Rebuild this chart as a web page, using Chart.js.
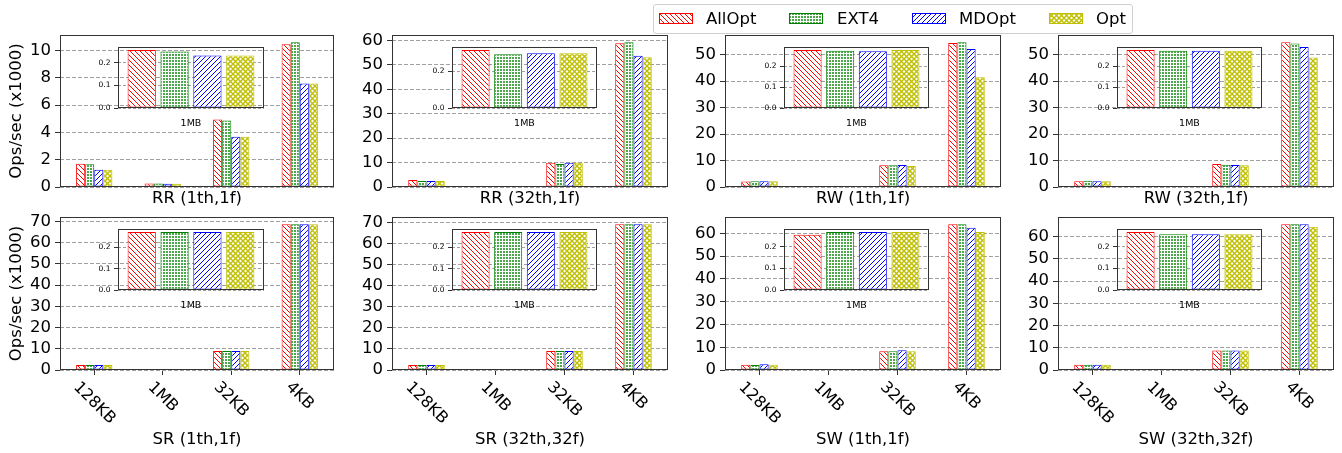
<!DOCTYPE html>
<html><head><meta charset="utf-8">
<script src="https://cdn.jsdelivr.net/npm/chart.js@4.4.0/dist/chart.umd.min.js"></script>
<style>
html,body{margin:0;padding:0;background:#fff;width:1342px;height:453px;overflow:hidden;position:relative;font-family:'DejaVu Sans',sans-serif;}
canvas{position:absolute;}
#legend{position:absolute;left:653px;top:4px;width:478px;height:28px;border:1px solid #d0d0d0;border-radius:3px;background:rgba(255,255,255,0.9);z-index:10;}
#legend canvas{position:absolute;top:8px;}
.lt{position:absolute;top:0;line-height:28px;font-size:16.5px;color:#000;white-space:nowrap;}
</style></head><body>
<div id="legend"></div>
<script>
// ---------------- DATA ----------------
const categories = ['128KB', '1MB', '32KB', '4KB'];
const seriesNames = ['AllOpt', 'EXT4', 'MDOpt', 'Opt'];
const panelTitles = ['RR (1th,1f)', 'RR (32th,1f)', 'RW (1th,1f)', 'RW (32th,1f)',
                     'SR (1th,1f)', 'SR (32th,32f)', 'SW (1th,1f)', 'SW (32th,32f)'];
const yAxisLabel = 'Ops/sec (x1000)';
const insetLabel = ['1MB'];
// rows = series (AllOpt, EXT4, MDOpt, Opt); columns = categories (128KB, 1MB, 32KB, 4KB)
const RR_1th_1f   = [[1.71, 0.258, 4.94, 10.46], [1.66, 0.251, 4.87, 10.61], [1.27, 0.233, 3.69, 7.58], [1.27, 0.233, 3.69, 7.58]];
const RR_32th_1f  = [[2.87, 0.315, 9.98, 58.9],  [2.46, 0.292, 9.43, 59.3],  [2.46, 0.297, 9.98, 53.8], [2.46, 0.297, 9.98, 53.2]];
const RW_1th_1f   = [[2.1, 0.277, 8.19, 54.4],   [2.14, 0.273, 8.19, 54.66], [2.14, 0.270, 8.3, 52.1],  [2.14, 0.277, 7.93, 41.4]];
const RW_32th_1f  = [[2.14, 0.277, 8.69, 54.66], [2.4, 0.273, 8.44, 54.16],  [2.14, 0.273, 8.3, 52.9],  [2.14, 0.273, 8.19, 48.87]];
const SR_1th_1f   = [[2.37, 0.271, 9.0, 68.7],   [2.37, 0.271, 9.0, 68.7],   [2.37, 0.271, 9.0, 68.7],  [2.37, 0.271, 9.0, 68.7]];
const SR_32th_32f = [[2.39, 0.271, 9.07, 69.2],  [2.39, 0.271, 9.07, 69.2],  [2.39, 0.271, 9.07, 69.2], [2.39, 0.271, 9.07, 69.2]];
const SW_1th_1f   = [[2.35, 0.257, 8.24, 63.97], [2.2, 0.270, 8.24, 63.97],  [2.5, 0.270, 8.68, 62.5],  [2.35, 0.270, 8.24, 60.6]];
const SW_32th_32f = [[2.41, 0.270, 8.74, 65.6],  [2.41, 0.259, 8.74, 65.6],  [2.41, 0.259, 8.74, 65.6], [2.41, 0.259, 8.74, 64.5]];
const panels = [RR_1th_1f, RR_32th_1f, RW_1th_1f, RW_32th_1f, SR_1th_1f, SR_32th_32f, SW_1th_1f, SW_32th_32f];
const mainTickSteps  = [2, 10, 10, 10, 10, 10, 10, 10];
const insetTickSteps = [0.1, 0.2, 0.1, 0.1, 0.1, 0.1, 0.1, 0.1];

// ---------------- STYLE ----------------
Chart.defaults.font.family = "'DejaVu Sans', sans-serif";
Chart.defaults.color = '#000';
const colors = ['#ff0000', '#008000', '#0000ff', '#bfbf00'];
const hatchKinds = ['back', 'dots', 'fwd', 'x'];

function hatch(kind, color) {
  const s = kind === 'dots' ? 3 : 5;
  const c = document.createElement('canvas'); c.width = s; c.height = s;
  const g = c.getContext('2d');
  g.fillStyle = '#fff'; g.fillRect(0, 0, s, s);
  g.strokeStyle = color; g.fillStyle = color; g.lineWidth = kind === 'x' ? 1.4 : 1;
  if (kind === 'back' || kind === 'x') { g.beginPath(); for (let k = -1; k <= 1; k++) { g.moveTo(k * s, 0); g.lineTo(k * s + s, s); } g.stroke(); }
  if (kind === 'fwd' || kind === 'x') { g.beginPath(); for (let k = -1; k <= 1; k++) { g.moveTo(k * s, s); g.lineTo(k * s + s, 0); } g.stroke(); }
  if (kind === 'dots') { g.globalAlpha = 0.7; g.fillRect(0, 0, 2, 2); }
  return g.createPattern(c, 'repeat');
}
const patterns = hatchKinds.map((k, i) => hatch(k, colors[i]));

const framePlugin = {
  id: 'frame',
  afterDatasetsDraw(chart) {
    const { ctx, chartArea: a } = chart;
    ctx.save(); ctx.strokeStyle = '#333'; ctx.lineWidth = 1; ctx.setLineDash([]);
    ctx.strokeRect(Math.round(a.left) + 0.5, Math.round(a.top) + 0.5, Math.round(a.right - a.left) - 1, Math.round(a.bottom - a.top) - 1);
    ctx.restore();
  }
};
const rotLabels = {
  id: 'rotLabels',
  afterDraw(chart) {
    const { ctx } = chart; const xs = chart.scales.x;
    ctx.save(); ctx.font = "16px 'DejaVu Sans'"; ctx.fillStyle = '#000';
    ctx.textAlign = 'center'; ctx.textBaseline = 'middle';
    chart.data.labels.forEach((lab, i) => {
      const x = xs.getPixelForValue(i);
      const w = ctx.measureText(lab).width, h = 19;
      const cy = chart.chartArea.bottom + 8 + (w + h) * 0.3536;
      ctx.save(); ctx.translate(x, cy); ctx.rotate(Math.PI / 4); ctx.fillText(lab, 0, 0); ctx.restore();
    });
    ctx.restore();
  }
};

function place(cv, left, top, w, h) {
  cv.width = w; cv.height = h;
  cv.style.left = left + 'px'; cv.style.top = top + 'px';
  cv.style.width = w + 'px'; cv.style.height = h + 'px';
  document.body.appendChild(cv);
}
function dataMax(vals, idx) {
  let m = 0;
  vals.forEach(s => (idx === undefined ? s : [s[idx]]).forEach(v => { if (v > m) m = v; }));
  return m * 1.05;
}

const colX = [[60, 334], [392, 668], [725, 1001], [1058, 1334]];
const rowY = [[35, 187], [217, 370]];
const insetX = [[118, 264], [452, 597], [784, 929], [1117, 1262]];
const insetY = [[47, 108], [229, 290]];

function mainChart(p) {
  const col = p % 4, row = Math.floor(p / 4);
  const [L, R] = colX[col], [T, B] = rowY[row];
  const padT = 14, padR = 6, yW = 60, xH = row === 0 ? 24 : 82;
  const cv = document.createElement('canvas');
  place(cv, L - yW, T - padT, R - L + yW + padR, B - T + padT + xH);
  const vals = panels[p];
  new Chart(cv, {
    type: 'bar',
    data: {
      labels: categories,
      datasets: seriesNames.map((n, i) => ({
        label: n, data: vals[i], backgroundColor: patterns[i], borderColor: colors[i],
        borderWidth: 1, borderSkipped: false, categoryPercentage: 0.53, barPercentage: 1
      }))
    },
    options: {
      responsive: false, animation: false, devicePixelRatio: 1,
      layout: { padding: { left: 0, top: padT, right: padR, bottom: 0 } },
      plugins: { legend: { display: false }, tooltip: { enabled: false } },
      scales: {
        x: {
          ticks: { display: false },
          grid: { display: row === 1, drawOnChartArea: false, drawTicks: true, tickLength: 5, tickColor: '#333', offset: false },
          border: { display: false },
          title: { display: true, text: panelTitles[p], font: { size: 16.5 }, padding: { top: 0, bottom: 2 } },
          afterFit: s => { s.height = xH; }
        },
        y: {
          min: 0, max: dataMax(vals),
          ticks: { stepSize: mainTickSteps[p], includeBounds: false, autoSkip: false, maxTicksLimit: 20, padding: 4, font: { size: 16.5, lineHeight: 1.0 } },
          grid: { color: '#a0a0a0', tickColor: '#333', tickLength: 5, tickBorderDash: [] },
          border: { display: false, dash: [4, 2] },
          title: { display: col === 0, text: yAxisLabel, font: { size: 16.5 }, padding: { top: 7, bottom: 0 } },
          afterFit: s => { s.width = yW; }
        }
      }
    },
    plugins: row === 1 ? [framePlugin, rotLabels] : [framePlugin]
  });
}

function insetChart(p) {
  const col = p % 4, row = Math.floor(p / 4);
  const [L, R] = insetX[col], [T, B] = insetY[row];
  const padT = 8, padR = 4, yW = 30, xH = 24;
  const cv = document.createElement('canvas');
  place(cv, L - yW, T - padT, R - L + yW + padR, B - T + padT + xH);
  const vals = panels[p];
  new Chart(cv, {
    type: 'bar',
    data: {
      labels: insetLabel,
      datasets: seriesNames.map((n, i) => ({
        label: n, data: [vals[i][1]], backgroundColor: patterns[i], borderColor: colors[i],
        borderWidth: 1, borderSkipped: false, categoryPercentage: 0.9, barPercentage: 0.86
      }))
    },
    options: {
      responsive: false, animation: false, devicePixelRatio: 1,
      layout: { padding: { left: 0, top: padT, right: padR, bottom: 0 } },
      plugins: { legend: { display: false }, tooltip: { enabled: false } },
      scales: {
        x: {
          ticks: { font: { size: 9.5 }, padding: 10 },
          grid: { display: false, drawTicks: false },
          border: { display: false },
          afterFit: s => { s.height = xH; }
        },
        y: {
          min: 0, max: dataMax(vals, 1),
          ticks: { stepSize: insetTickSteps[p], includeBounds: false, autoSkip: false, padding: 3.5, font: { size: 7.5, lineHeight: 1.0 }, callback: v => Number(v).toFixed(1) },
          grid: { color: '#a0a0a0', tickColor: '#333', tickLength: 4, tickBorderDash: [] },
          border: { display: false, dash: [3, 2] },
          afterFit: s => { s.width = yW; }
        }
      }
    },
    plugins: [framePlugin]
  });
}

for (let p = 0; p < 8; p++) mainChart(p);
for (let p = 0; p < 8; p++) insetChart(p);

// legend
const legend = document.getElementById('legend');
const swLeft = [5, 135, 258, 395], txLeft = [52, 183, 305, 442];
seriesNames.forEach((n, i) => {
  const c = document.createElement('canvas');
  c.width = 34; c.height = 11; c.style.left = swLeft[i] + 'px'; c.style.width = '34px'; c.style.height = '11px';
  const g = c.getContext('2d');
  g.fillStyle = patterns[i]; g.fillRect(0, 0, 34, 11);
  g.strokeStyle = colors[i]; g.lineWidth = 1; g.strokeRect(0.5, 0.5, 33, 10);
  legend.appendChild(c);
  const t = document.createElement('div'); t.className = 'lt'; t.style.left = txLeft[i] + 'px'; t.textContent = n;
  legend.appendChild(t);
});
</script>
</body></html>
